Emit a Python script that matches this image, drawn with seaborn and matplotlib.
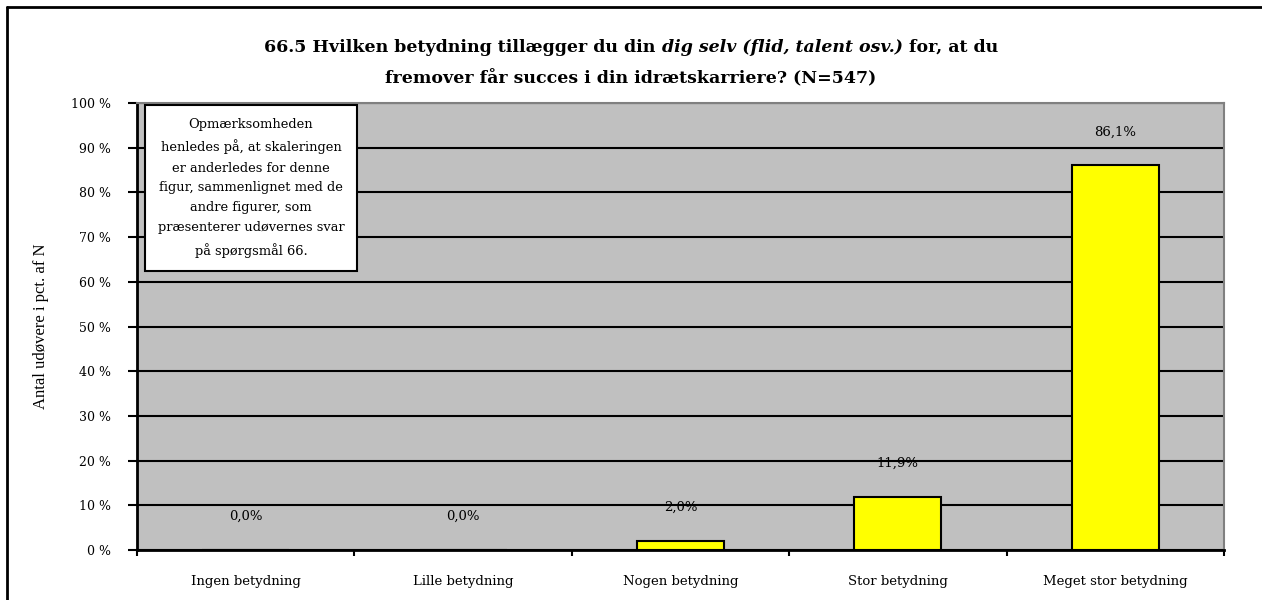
import numpy as np
import pandas as pd

import matplotlib
matplotlib.use('Agg')
import matplotlib.pyplot as plt
from matplotlib.offsetbox import TextArea, HPacker, AnchoredOffsetbox
from matplotlib.patches import Rectangle
from matplotlib.lines import Line2D
import seaborn as sns

categories = ['Ingen betydning', 'Lille betydning', 'Nogen betydning',
              'Stor betydning', 'Meget stor betydning']
values = [0.0, 0.0, 2.0, 11.9, 86.1]
value_labels = ['0,0%', '0,0%', '2,0%', '11,9%', '86,1%']
yticks = list(range(0, 101, 10))
ytick_labels = ['{} %'.format(t) for t in yticks]

title1 = ['66.5 Hvilken betydning tillægger du din ', 'dig selv (flid, talent osv.)', ' for, at du']
title2 = 'fremover får succes i din idrætskarriere? (N=547)'
note = ('Opmærksomheden\nhenledes på, at skaleringen\ner anderledes for denne\n'
        'figur, sammenlignet med de\nandre figurer, som\npræsenterer udøvernes svar\n'
        'på spørgsmål 66.')

sns.set_theme(style='white')
plt.rcParams['font.family'] = ['DejaVu Serif']
for k in ['text.color', 'axes.labelcolor', 'xtick.color', 'ytick.color']:
    plt.rcParams[k] = 'black'

W, H = 1262, 600
fig = plt.figure(figsize=(W / 100, H / 100), dpi=100)
ax = fig.add_axes([137 / W, 1 - 550 / H, (1224 - 137) / W, (550 - 103) / H])
ax.set_facecolor('#C0C0C0')

df = pd.DataFrame({'cat': categories, 'val': values})
sns.barplot(data=df, x='cat', y='val', color='#FFFF00', saturation=1,
            edgecolor='black', linewidth=1.5, width=0.4, ax=ax)

ax.set_ylim(0, 100)
ax.set_xlim(-0.5, 4.5)
ax.set_yticks(yticks)
ax.set_yticklabels(ytick_labels, fontsize=9)
ax.yaxis.grid(True, color='black', linewidth=1.5)
ax.set_axisbelow(True)
ax.tick_params(axis='y', length=6.5, width=1.5, color='black', left=True, pad=12)
ax.set_xticks(range(len(categories)))
ax.set_xticklabels(categories, fontsize=9.5)
ax.tick_params(axis='x', length=0, pad=18)
ax.set_xticks(np.arange(-0.5, 4.6, 1), minor=True)
ax.tick_params(axis='x', which='minor', length=4, width=1.5, color='black', bottom=True)
ax.set_xlabel('')
ax.set_ylabel('Antal udøvere i pct. af N', family='Liberation Serif', fontsize=12, labelpad=16)

for s in ['left', 'bottom']:
    ax.spines[s].set_color('black')
    ax.spines[s].set_linewidth(2)
for s in ['top', 'right']:
    ax.spines[s].set_color('#808080')
    ax.spines[s].set_linewidth(1.5)

for i, (v, lab) in enumerate(zip(values, value_labels)):
    ax.annotate(lab, xy=(i, v), xytext=(0, 24), textcoords='offset points',
                ha='center', va='center', fontsize=9.5)

# note box
bx0, bx1, by0, by1 = 145, 357, 105, 271
fig.add_artist(Rectangle((bx0 / W, 1 - by1 / H), (bx1 - bx0) / W, (by1 - by0) / H,
                         transform=fig.transFigure, facecolor='white',
                         edgecolor='black', linewidth=1.5, zorder=5))
fig.text((bx0 + bx1) / 2 / W, 1 - (by0 + by1) / 2 / H, note, ha='center', va='center',
         fontsize=9.4, linespacing=1.7, zorder=6)

# title
tp = dict(fontweight='bold', size=12.5, family='DejaVu Serif')
parts = [TextArea(title1[0], textprops=tp),
         TextArea(title1[1], textprops=dict(tp, fontstyle='italic')),
         TextArea(title1[2], textprops=tp)]
box = HPacker(children=parts, align='baseline', pad=0, sep=0)
anch = AnchoredOffsetbox(loc='center', child=box, pad=0, borderpad=0, frameon=False,
                         bbox_to_anchor=(0.5, 1 - 47 / H), bbox_transform=fig.transFigure)
fig.add_artist(anch)
fig.text(0.5, 1 - 79 / H, title2, ha='center', va='center', **tp)

# outer frame
fig.add_artist(Line2D([7 / W, 7 / W], [0, 1 - 7 / H], transform=fig.transFigure,
                      color='black', linewidth=2))
fig.add_artist(Line2D([7 / W, 1], [1 - 7 / H, 1 - 7 / H], transform=fig.transFigure,
                      color='black', linewidth=2))

fig.savefig('out.png', dpi=100)
